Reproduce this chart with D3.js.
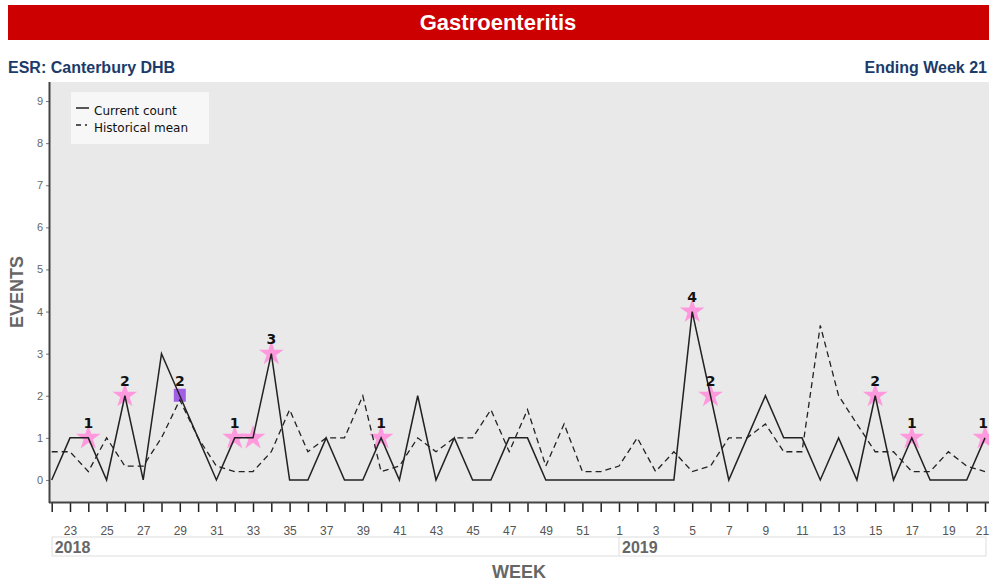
<!DOCTYPE html>
<html>
<head>
<meta charset="utf-8">
<script src="https://cdn.jsdelivr.net/npm/d3@7"></script>
<style>
  body { margin: 0; background: #fff; }
</style>
</head>
<body>
<div id="chart"></div>
<script>
// week tick labels (2018 wk22 .. 2019 wk21)
const weeks = [22,23,24,25,26,27,28,29,30,31,32,33,34,35,36,37,38,39,40,41,42,43,44,45,46,47,48,49,50,51,52,
               1,2,3,4,5,6,7,8,9,10,11,12,13,14,15,16,17,18,19,20,21];
const years = [{ year: "2018", start: 0 }, { year: "2019", start: 31 }];

// current count
const current = [0,1,1,0,2,0,3,2,1,0,1,1,3,0,0,1,0,0,1,0,2,0,1,0,0,1,1,0,0,0,0,
                 0,0,0,0,4,2,0,1,2,1,1,0,1,0,2,0,1,0,0,0,1];

// historical mean
const historical = [0.67,0.67,0.2,1.0,0.33,0.33,1.0,1.9,1.0,0.33,0.2,0.2,0.67,1.67,0.67,1.0,1.0,2.0,0.2,0.33,1.0,0.67,1.0,1.0,1.67,0.67,1.67,0.33,1.33,0.2,0.2,
                    0.33,1.0,0.2,0.67,0.2,0.33,1.0,1.0,1.33,0.67,0.67,3.67,2.0,1.33,0.67,0.67,0.2,0.2,0.67,0.33,0.2];

// flagged weeks (index into weeks), marker type, and whether the value is printed
const flagged = [
  { i: 2, type: "star", label: true },
  { i: 4, type: "star", label: true },
  { i: 7, type: "square", label: true },
  { i: 10, type: "star", label: true },
  { i: 11, type: "star", label: false },
  { i: 12, type: "star", label: true },
  { i: 18, type: "star", label: true },
  { i: 35, type: "star", label: true },
  { i: 36, type: "star", label: true },
  { i: 45, type: "star", label: true },
  { i: 47, type: "star", label: true },
  { i: 51, type: "star", label: true }
];

const width = 989, height = 586;
const plot = { left: 50, right: 989, top: 82, bottom: 502 };
const sans = "'Liberation Sans', Arial, sans-serif";
const dejavu = "'DejaVu Sans', sans-serif";

const svg = d3.select("#chart")
    .append("svg")
    .attr("width", width)
    .attr("height", height)
    .style("font-family", sans);

// title bar
svg.append("rect")
    .attr("x", 8).attr("y", 5)
    .attr("width", width - 8).attr("height", 35)
    .attr("fill", "#cc0000");
svg.append("text")
    .attr("x", 498).attr("y", 30)
    .attr("text-anchor", "middle")
    .attr("fill", "#fff")
    .attr("font-weight", "bold")
    .attr("font-size", "22px")
    .text("Gastroenteritis");

// sub headings
svg.append("text")
    .attr("x", 8).attr("y", 73)
    .attr("fill", "#1b3b6a")
    .attr("font-weight", "bold")
    .attr("font-size", "16px")
    .text("ESR: Canterbury DHB");
svg.append("text")
    .attr("x", 987).attr("y", 73)
    .attr("text-anchor", "end")
    .attr("fill", "#1b3b6a")
    .attr("font-weight", "bold")
    .attr("font-size", "16px")
    .text("Ending Week 21");

// plot background
svg.append("rect")
    .attr("x", plot.left).attr("y", plot.top)
    .attr("width", plot.right - plot.left)
    .attr("height", plot.bottom - plot.top)
    .attr("fill", "#e9e9e9");

// scales
let xScale = d3.scaleLinear()
    .domain([0, weeks.length - 1])
    .range([51.7, 985]);

let yScale = d3.scaleLinear()
    .domain([-0.5, 9.5])
    .range([501, 80]);

// y axis
svg.append("g")
    .attr("transform", `translate(${plot.left - 1}, 0)`)
    .call(d3.axisLeft(yScale).tickValues(d3.range(0, 10)).tickSize(3).tickPadding(3))
    .call(g => g.select(".domain").remove())
    .call(g => g.selectAll(".tick line").attr("stroke", "#777"))
    .call(g => g.selectAll(".tick text")
        .attr("fill", "#666")
        .attr("font-size", "11px")
        .style("font-family", sans));

// x axis
svg.append("g")
    .attr("transform", `translate(0, ${plot.bottom + 1})`)
    .call(d3.axisBottom(xScale)
        .tickValues(d3.range(0, weeks.length))
        .tickSize(9)
        .tickPadding(14)
        .tickFormat(i => weeks[i] % 2 === 1 ? weeks[i] : ""))
    .call(g => g.select(".domain").remove())
    .call(g => g.selectAll(".tick line").attr("stroke", "#222").attr("stroke-width", 1.5))
    .call(g => g.selectAll(".tick text")
        .attr("fill", "#555")
        .attr("font-size", "12px")
        .style("font-family", sans))
    // last label sits on the right edge; keep it inside the picture
    .call(g => g.selectAll(".tick text").filter(i => i === weeks.length - 1)
        .attr("text-anchor", "end")
        .attr("dx", "0.3em"));

// axis frame lines
svg.append("line")
    .attr("x1", plot.left - 0.5).attr("x2", plot.left - 0.5)
    .attr("y1", plot.top).attr("y2", plot.bottom + 1)
    .attr("stroke", "#444").attr("stroke-width", 2);
svg.append("line")
    .attr("x1", plot.left - 1).attr("x2", plot.right)
    .attr("y1", plot.bottom + 0.5).attr("y2", plot.bottom + 0.5)
    .attr("stroke", "#444").attr("stroke-width", 2);

// year band
svg.append("rect")
    .attr("x", 52).attr("y", 537)
    .attr("width", 934).attr("height", 19)
    .attr("fill", "#fff")
    .attr("stroke", "#ddd");
svg.selectAll(".yearSep")
    .data(years.slice(1))
    .enter()
    .append("line")
      .attr("x1", d => xScale(d.start)).attr("x2", d => xScale(d.start))
      .attr("y1", 537).attr("y2", 556)
      .attr("stroke", "#ddd");
svg.selectAll(".yearText")
    .data(years)
    .enter()
    .append("text")
      .attr("x", d => xScale(d.start) + 3)
      .attr("y", 553)
      .attr("fill", "#666")
      .attr("font-weight", "bold")
      .attr("font-size", "16px")
      .text(d => d.year);

// axis titles
svg.append("text")
    .attr("transform", "translate(23, 292) rotate(-90)")
    .attr("text-anchor", "middle")
    .attr("fill", "#666")
    .attr("font-weight", "bold")
    .attr("font-size", "18px")
    .text("EVENTS");
svg.append("text")
    .attr("x", 519).attr("y", 578)
    .attr("text-anchor", "middle")
    .attr("fill", "#666")
    .attr("font-weight", "bold")
    .attr("font-size", "18px")
    .text("WEEK");

// markers (drawn under the lines)
svg.selectAll(".star")
    .data(flagged.filter(d => d.type === "star"))
    .enter()
    .append("path")
      .attr("d", d3.symbol().type(d3.symbolStar).size(190))
      .attr("transform", d => `translate(${xScale(d.i)}, ${yScale(current[d.i])})`)
      .attr("fill", "#ff99dd");
svg.selectAll(".square")
    .data(flagged.filter(d => d.type === "square"))
    .enter()
    .append("rect")
      .attr("x", d => xScale(d.i) - 6)
      .attr("y", d => yScale(current[d.i]) - 7)
      .attr("width", 12).attr("height", 13)
      .attr("fill", "#a35ee6");

// lines
let lineGen = d3.line()
    .x((d, i) => xScale(i))
    .y(d => yScale(d));

svg.append("path")
    .datum(historical)
    .attr("d", lineGen)
    .attr("fill", "none")
    .attr("stroke", "#222")
    .attr("stroke-width", 1.3)
    .attr("stroke-dasharray", "6,4");

svg.append("path")
    .datum(current)
    .attr("d", lineGen)
    .attr("fill", "none")
    .attr("stroke", "#222")
    .attr("stroke-width", 1.5);

// value labels
svg.selectAll(".valueLabel")
    .data(flagged.filter(d => d.label))
    .enter()
    .append("text")
      .attr("x", d => Math.min(xScale(d.i), 983))
      .attr("y", d => yScale(current[d.i]) - 10)
      .attr("text-anchor", "middle")
      .attr("fill", "#111")
      .attr("font-weight", "bold")
      .attr("font-size", "14px")
      .style("font-family", dejavu)
      .text(d => current[d.i]);

// legend
const legend = svg.append("g");
legend.append("rect")
    .attr("x", 71).attr("y", 92)
    .attr("width", 138).attr("height", 52)
    .attr("fill", "#f7f7f7");
legend.append("line")
    .attr("x1", 76).attr("x2", 89).attr("y1", 108).attr("y2", 108)
    .attr("stroke", "#222").attr("stroke-width", 1.5);
legend.append("line")
    .attr("x1", 76).attr("x2", 91).attr("y1", 125).attr("y2", 125)
    .attr("stroke", "#222").attr("stroke-width", 1.3)
    .attr("stroke-dasharray", "5,4,2,4");
legend.append("text")
    .attr("x", 94).attr("y", 115)
    .attr("fill", "#111")
    .attr("font-size", "12px")
    .style("font-family", dejavu)
    .text("Current count");
legend.append("text")
    .attr("x", 94).attr("y", 132)
    .attr("fill", "#111")
    .attr("font-size", "12px")
    .style("font-family", dejavu)
    .text("Historical mean");
</script>
</body>
</html>
